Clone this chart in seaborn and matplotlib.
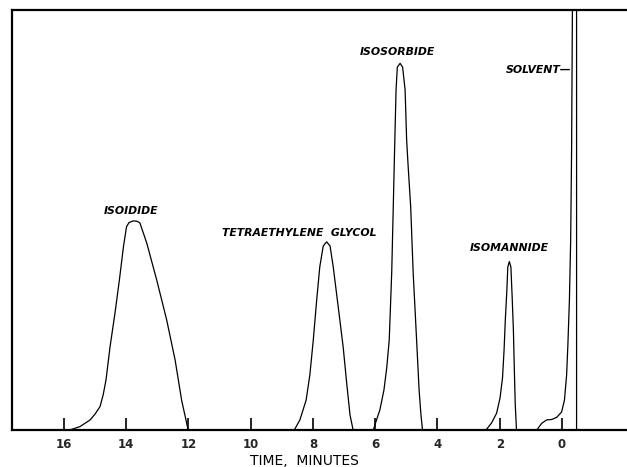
import matplotlib
matplotlib.use("Agg")
import matplotlib.pyplot as plt
import seaborn as sns
import pandas as pd

# Cromatograma: tempo (min) x resposta (% da escala)
linha_base = [17.7, -2.1]

isoidide_t = [15.81, 15.49, 15.16, 15.00, 14.84, 14.74, 14.65, 14.52, 14.36, 14.22, 14.09,
              13.99, 13.91, 13.77, 13.65, 13.56, 13.34, 13.02, 12.70, 12.43, 12.22, 12.01]
isoidide_h = [0.0, 0.8, 2.4, 3.8, 5.6, 8.4, 11.9, 19.8, 27.9, 35.7, 43.6,
              48.4, 49.4, 49.8, 49.7, 49.3, 44.5, 35.7, 26.2, 16.7, 7.1, 0.0]

glicol_t = [8.60, 8.42, 8.22, 8.10, 7.99, 7.88, 7.78, 7.67, 7.56, 7.45,
            7.35, 7.19, 7.03, 6.91, 6.81, 6.71]
glicol_h = [0.0, 2.4, 7.1, 13.1, 21.4, 31.0, 38.9, 43.8, 44.8, 43.8,
            38.9, 29.4, 19.8, 10.7, 3.6, 0.0]

isosorbide_t = [6.06, 5.98, 5.85, 5.72, 5.63, 5.55, 5.47, 5.42, 5.37, 5.33, 5.29, 5.20,
                5.12, 5.04, 4.99, 4.94, 4.86, 4.78, 4.67, 4.59, 4.53, 4.48]
isosorbide_h = [0.0, 1.9, 4.8, 9.5, 14.8, 21.4, 37.4, 53.1, 69.0, 81.0, 86.4, 87.3,
                86.4, 81.0, 69.0, 62.6, 53.1, 37.4, 21.4, 9.5, 3.6, 0.0]

isomannide_t = [2.44, 2.26, 2.10, 1.99, 1.91, 1.86, 1.82, 1.77, 1.74, 1.69,
                1.64, 1.60, 1.56, 1.53, 1.50, 1.46]
isomannide_h = [0.0, 1.7, 4.0, 7.6, 12.4, 19.0, 26.2, 33.3, 38.8, 40.1,
                38.8, 31.7, 23.8, 14.3, 6.0, 0.0]

solvente_t = [0.81, 0.65, 0.49, 0.33, 0.17, 0.01, -0.08, -0.15, -0.19, -0.24,
              -0.28, -0.31, -0.34, -0.47, -0.47]
solvente_h = [0.0, 1.6, 2.4, 2.5, 3.0, 4.3, 7.1, 13.1, 20.2, 31.0,
              45.2, 66.7, 105.0, 105.0, 0.0]

# Rótulos dos picos
rotulos = ["ISOIDIDE", "TETRAETHYLENE  GLYCOL", "ISOSORBIDE", "ISOMANNIDE", "SOLVENT\u2014"]
rotulo_t = [13.85, 8.45, 5.29, 1.70, -0.29]
rotulo_h = [52.1, 46.9, 90.0, 43.3, 85.7]
rotulo_ha = ["center", "center", "center", "center", "right"]

ticks_x = [16, 14, 12, 10, 8, 6, 4, 2, 0]

# Monta o traço completo
tempo = ([linha_base[0]] + isoidide_t + glicol_t + isosorbide_t
         + isomannide_t + solvente_t + [linha_base[1]])
resposta = [0.0] + isoidide_h + glicol_h + isosorbide_h + isomannide_h + solvente_h + [0.0]
df = pd.DataFrame({"tempo": tempo, "resposta": resposta})

sns.set_theme(style="white")
plt.rcParams["font.family"] = ["DejaVu Sans"]

fig = plt.figure(figsize=(6.27, 4.67), dpi=100)
ax = fig.add_axes([12 / 627, 37 / 467, 615 / 627, 420 / 467])

sns.lineplot(data=df, x="tempo", y="resposta", sort=False, estimator=None,
             color="black", linewidth=0.9, ax=ax)

ax.set_xlim(linha_base[0] - 0.03, linha_base[1] + 0.01)
ax.set_ylim(0, 100)

for nome, t, h, ha in zip(rotulos, rotulo_t, rotulo_h, rotulo_ha):
    ax.text(t, h, nome, ha=ha, va="center", fontsize=7.8,
            fontweight="bold", fontstyle="italic", color="black")

ax.set_xticks(ticks_x)
ax.set_xticklabels([str(v) for v in ticks_x], fontsize=8.5, fontweight="bold")
ax.set_yticks([])
ax.tick_params(axis="x", direction="in", length=9, width=1.2, pad=6,
               color="black", bottom=True)
ax.set_xlabel("TIME,  MINUTES", fontsize=10, color="black")
ax.xaxis.set_label_coords(0.476, -0.058)
ax.set_ylabel("")

for lado in ["left", "top", "bottom"]:
    ax.spines[lado].set_color("black")
    ax.spines[lado].set_linewidth(1.6)
ax.spines["right"].set_visible(False)

fig.savefig("out.png", dpi=100)
